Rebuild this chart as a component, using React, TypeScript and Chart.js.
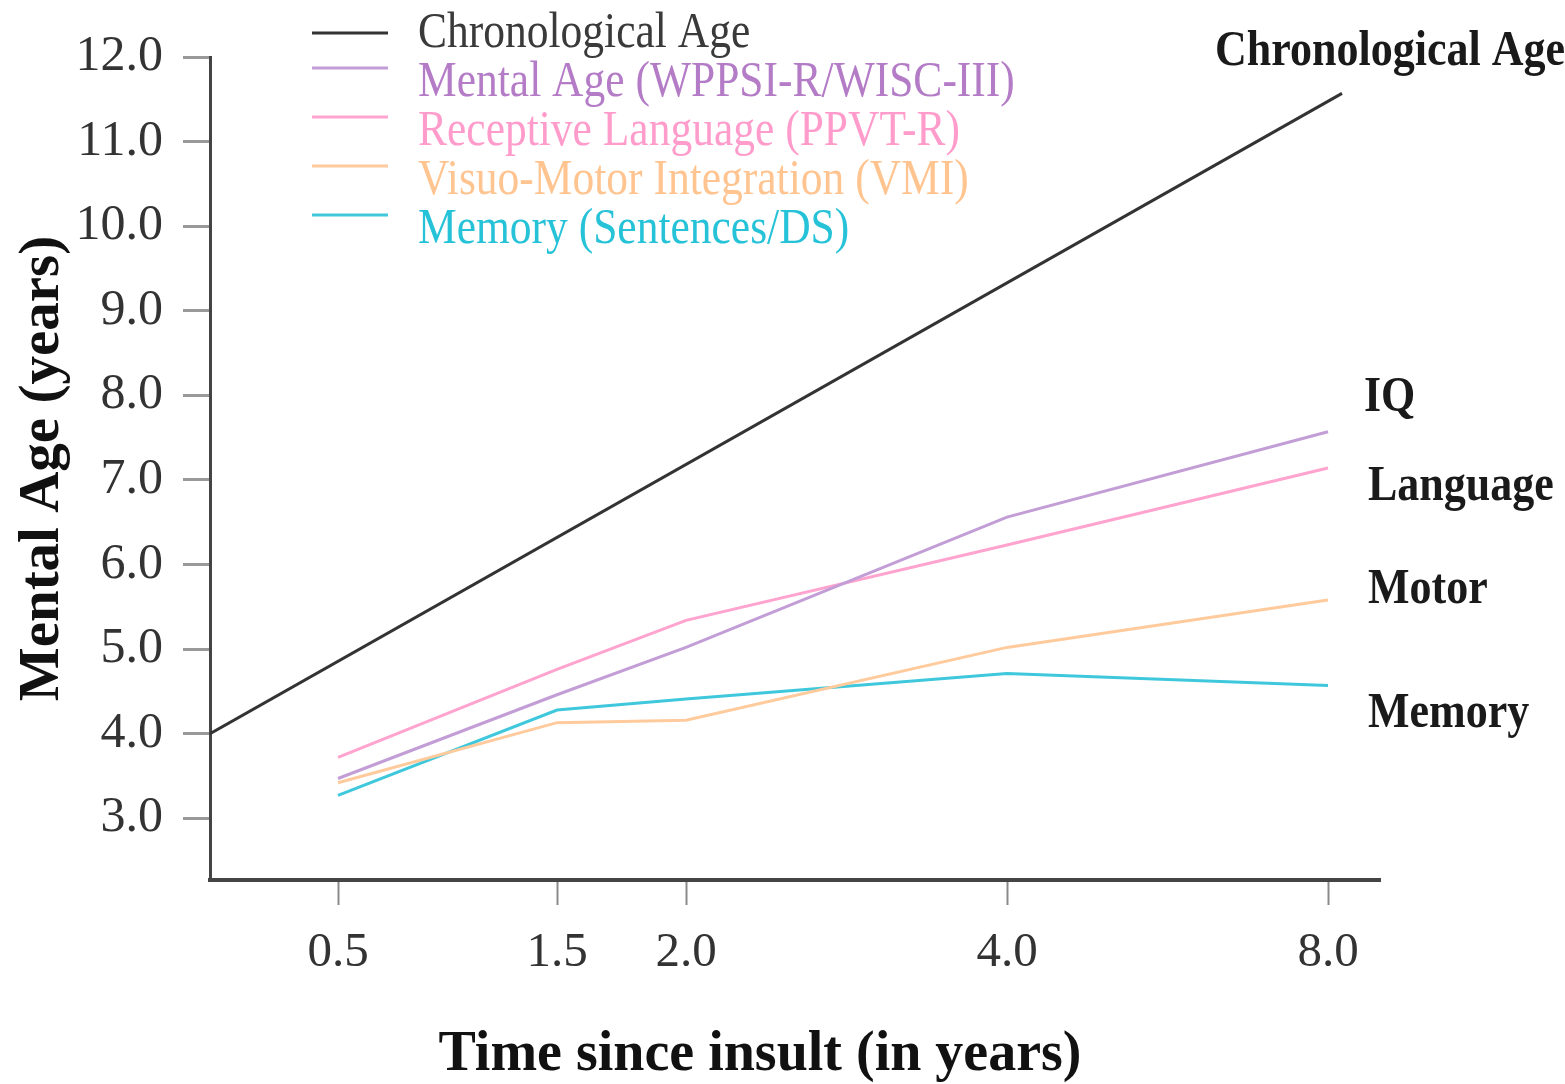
import React, { useEffect, useRef } from 'react';
import { Chart, registerables } from 'chart.js';

Chart.register(...registerables);

// ---- data ----
const timeLabels = ['0.5', '1.5', '2.0', '4.0', '8.0'];
// positions of the time points along the (non-uniform) drawn x axis
const timeAxisPositions = [1.28, 3.47, 4.76, 7.97, 11.18];
const mentalAge = [3.47, 4.46, 5.02, 6.56, 7.57];
const receptiveLanguage = [3.72, 4.76, 5.34, 6.23, 7.14];
const visuoMotor = [3.42, 4.13, 4.16, 5.02, 5.58];
const memory = [3.27, 4.28, 4.41, 4.71, 4.57];
const chronoAxisPositions = [0, 11.32];
const chronologicalAge = [4.0, 11.57];
const yTickValues = [3, 4, 5, 6, 7, 8, 9, 10, 11, 12];

const seriesNames = [
  'Chronological Age',
  'Mental Age (WPPSI-R/WISC-III)',
  'Receptive Language (PPVT-R)',
  'Visuo-Motor Integration (VMI)',
  'Memory (Sentences/DS)',
];
const endLabels = ['Chronological Age', 'IQ', 'Language', 'Motor', 'Memory'];

const lineColors = ['#333333', '#c29dd6', '#ffa3cf', '#ffca9c', '#3fc8dc'];
const textColors = ['#3a3a3a', '#b47cc6', '#ff9ccb', '#ffc490', '#26c2d8'];

const SERIF = "'Liberation Serif', 'Times New Roman', serif";

const toPoints = (xs: number[], ys: number[]) => xs.map((x, i) => ({ x, y: ys[i] }));

const annotations = {
  id: 'annotations',
  afterDraw(chart: any) {
    const ctx = chart.ctx as CanvasRenderingContext2D;
    const stretch = 1.16;
    ctx.save();
    // legend
    ctx.font = `43.5px ${SERIF}`;
    ctx.textBaseline = 'alphabetic';
    ctx.textAlign = 'left';
    seriesNames.forEach((name, i) => {
      const base = 47 + i * 49;
      const ly = i === 0 ? base - 14 : base - 28;
      ctx.strokeStyle = lineColors[i];
      ctx.lineWidth = 3;
      ctx.beginPath();
      ctx.moveTo(312, ly);
      ctx.lineTo(388, ly);
      ctx.stroke();
      ctx.save();
      ctx.translate(418, base);
      ctx.scale(1, stretch);
      ctx.fillStyle = textColors[i];
      ctx.fillText(name, 0, 0);
      ctx.restore();
    });
    // end labels
    const yScale = chart.scales.y;
    const endPos = [
      { x: 1215, v: 11.91 },
      { x: 1364, v: 7.81 },
      { x: 1368, v: 6.76 },
      { x: 1368, v: 5.54 },
      { x: 1368, v: 4.08 },
    ];
    ctx.font = `bold 44px ${SERIF}`;
    ctx.fillStyle = '#1a1a1a';
    endLabels.forEach((t, i) => {
      ctx.save();
      ctx.translate(endPos[i].x, yScale.getPixelForValue(endPos[i].v));
      ctx.scale(1, stretch);
      ctx.fillText(t, 0, 0);
      ctx.restore();
    });
    ctx.restore();
  },
};

export default function App() {
  const ref = useRef<HTMLCanvasElement>(null);
  useEffect(() => {
    if (!ref.current) return;
    const datasets = [
      { label: seriesNames[1], data: toPoints(timeAxisPositions, mentalAge), borderColor: lineColors[1] },
      { label: seriesNames[2], data: toPoints(timeAxisPositions, receptiveLanguage), borderColor: lineColors[2] },
      { label: seriesNames[3], data: toPoints(timeAxisPositions, visuoMotor), borderColor: lineColors[3] },
      { label: seriesNames[4], data: toPoints(timeAxisPositions, memory), borderColor: lineColors[4] },
      { label: seriesNames[0], data: toPoints(chronoAxisPositions, chronologicalAge), borderColor: lineColors[0] },
    ].map((d) => ({ ...d, borderWidth: 3, pointRadius: 0, tension: 0, fill: false }));

    const chart = new Chart(ref.current, {
      type: 'line',
      data: { datasets },
      options: {
        animation: false,
        responsive: false,
        layout: { padding: { top: 57, right: 185, left: 0, bottom: 0 } },
        plugins: { legend: { display: false }, tooltip: { enabled: false } },
        scales: {
          x: {
            type: 'linear',
            min: 0,
            max: 11.7,
            afterBuildTicks: (s: any) => {
              s.ticks = timeAxisPositions.map((v) => ({ value: v }));
            },
            afterFit: (s: any) => {
              s.height = 204;
            },
            ticks: {
              autoSkip: false,
              maxRotation: 0,
              padding: 19,
              color: '#333',
              font: { family: SERIF, size: 49 },
              callback: (v: any) => {
                const i = timeAxisPositions.indexOf(Number(v));
                return i >= 0 ? timeLabels[i] : '';
              },
            },
            grid: { drawOnChartArea: false, drawTicks: true, tickLength: 25, tickWidth: 2, tickColor: '#8a8a8a' },
            border: { display: true, color: '#444', width: 4 },
            title: {
              display: true,
              text: 'Time since insult (in years)\u00a0\u00a0\u00a0\u00a0\u00a0',
              color: '#111',
              font: { family: SERIF, size: 56, weight: 'bold', lineHeight: 1.0 },
              padding: { top: 0, bottom: 0 },
            },
          },
          y: {
            type: 'linear',
            min: 2.27,
            max: 12,
            afterBuildTicks: (s: any) => {
              s.ticks = yTickValues.map((v) => ({ value: v }));
            },
            afterFit: (s: any) => {
              s.width = 210;
            },
            ticks: {
              padding: 20,
              color: '#333',
              font: { family: SERIF, size: 50 },
              callback: (v: any) => Number(v).toFixed(1),
            },
            grid: { drawOnChartArea: false, drawTicks: true, tickLength: 27, tickWidth: 3, tickColor: '#999' },
            border: { display: true, color: '#444', width: 3 },
            title: {
              display: true,
              text: 'Mental Age (years)',
              color: '#111',
              font: { family: SERIF, size: 57, weight: 'bold' },
              padding: { top: 9, bottom: 0 },
            },
          },
        },
      },
      plugins: [annotations],
    } as any);
    return () => chart.destroy();
  }, []);

  return (
    <div style={{ position: 'fixed', left: 0, top: 0, width: 1565, height: 1084, background: '#fff' }}>
      <canvas ref={ref} width={1565} height={1084} style={{ display: 'block' }} />
    </div>
  );
}
